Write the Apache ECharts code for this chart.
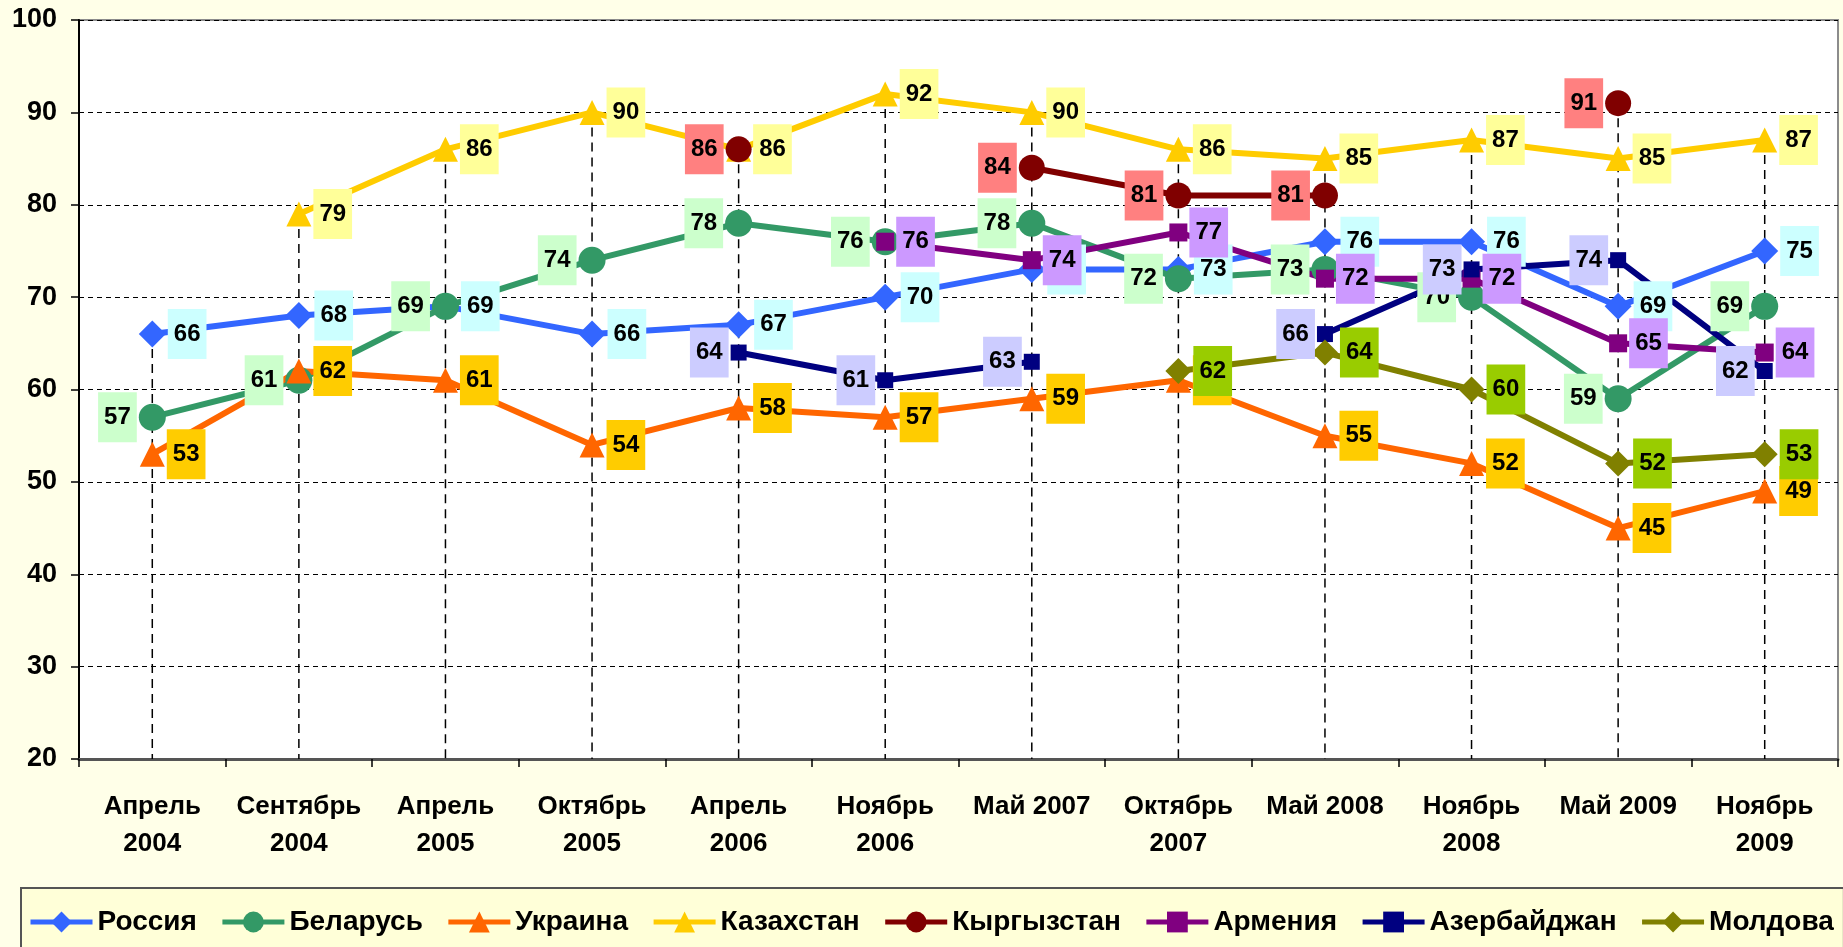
<!DOCTYPE html>
<html>
<head>
<meta charset="utf-8">
<script src="https://cdn.jsdelivr.net/npm/echarts@6/dist/echarts.min.js"></script>
<style>
  html, body { margin: 0; padding: 0; background: #FFFFE8; }
  #main { width: 1843px; height: 947px; }
</style>
</head>
<body>
<div id="main"></div>
<script>
// периоды опроса
var categories = ['Апрель\n2004', 'Сентябрь\n2004', 'Апрель\n2005', 'Октябрь\n2005', 'Апрель\n2006', 'Ноябрь\n2006',
                  'Май 2007', 'Октябрь\n2007', 'Май 2008', 'Ноябрь\n2008', 'Май 2009', 'Ноябрь\n2009'];
var yTicks = [20, 30, 40, 50, 60, 70, 80, 90, 100];

// значения по странам (null - нет данных)
var russia     = [66, 68, 69, 66, 67, 70, 73, 73, 76, 76, 69, 75];
var belarus    = [57, 61, 69, 74, 78, 76, 78, 72, 73, 70, 59, 69];
var ukraine    = [53, 62, 61, 54, 58, 57, 59, 61, 55, 52, 45, 49];
var kazakhstan = [null, 79, 86, 90, 86, 92, 90, 86, 85, 87, 85, 87];
var kyrgyzstan = [null, null, null, null, 86, null, 84, 81, 81, null, 91, null];
var armenia    = [null, null, null, null, null, 76, 74, 77, 72, 72, 65, 64];
var azerbaijan = [null, null, null, null, 64, 61, 63, null, 66, 73, 74, 62];
var moldova    = [null, null, null, null, null, null, null, 62, 64, 60, 52, 53];

var FONT = "'Liberation Sans', Arial, sans-serif";

var dom = document.getElementById('main');
var myChart = echarts.init(dom);

function clean(arr) {
    return arr.map(function (v) { return v === null ? '-' : v; });
}

// одна линия страны
function makeSeries(name, data, color, labelBg, symbol, size, pos) {
    return {
        name: name,
        type: 'line',
        data: clean(data),
        symbol: symbol,
        symbolSize: size,
        z: 3,
        lineStyle: { color: color, width: 6 },
        itemStyle: { color: color },
        label: {
            show: true,
            position: pos,
            distance: 2,
            color: '#000',
            fontFamily: FONT,
            fontWeight: 'bold',
            fontSize: 24,
            backgroundColor: labelBg,
            padding: [13, 6, 13, 6]
        },
        emphasis: { disabled: true }
    };
}

// вертикальные линии от максимума вниз
var dropData = categories.map(function (c, i) {
    var all = [russia, belarus, ukraine, kazakhstan, kyrgyzstan, armenia, azerbaijan, moldova];
    var m = null;
    all.forEach(function (s) {
        if (s[i] !== null && (m === null || s[i] > m)) m = s[i];
    });
    return [i, m];
});

var series = [
    {
        type: 'custom',
        z: 1,
        silent: true,
        data: dropData,
        renderItem: function (params, api) {
            var top = api.coord([api.value(0), api.value(1)]);
            var bottom = api.coord([api.value(0), yTicks[0]]);
            return {
                type: 'line',
                shape: { x1: top[0], y1: top[1], x2: bottom[0], y2: bottom[1] },
                style: { stroke: '#000', lineWidth: 1.5, lineDash: [9, 6] }
            };
        }
    },
    makeSeries('Россия', russia, '#3366FF', '#CCFFFF', 'diamond', 27, 'right'),
    makeSeries('Беларусь', belarus, '#339966', '#CCFFCC', 'circle', 27, 'left'),
    makeSeries('Украина', ukraine, '#FF6600', '#FFCC00', 'triangle', 25, 'right'),
    makeSeries('Казахстан', kazakhstan, '#FFCC00', '#FFFF99', 'triangle', 25, 'right'),
    makeSeries('Кыргызстан', kyrgyzstan, '#800000', '#FF8080', 'circle', 26, 'left'),
    makeSeries('Армения', armenia, '#800080', '#CC99FF', 'rect', 18, 'right'),
    makeSeries('Азербайджан', azerbaijan, '#000080', '#CCCCFF', 'rect', 16, 'left'),
    makeSeries('Молдова', moldova, '#808000', '#99CC00', 'diamond', 26, 'right')
];

var option = {
    backgroundColor: '#FFFFE8',
    animation: false,
    grid: {
        left: 79,
        right: 5,
        top: 20,
        bottom: 188,
        show: true,
        backgroundColor: '#FFFFFF',
        borderColor: '#8C8C8C',
        borderWidth: 2,
        outerBoundsMode: 'none'
    },
    legend: {
        data: ['Россия', 'Беларусь', 'Украина', 'Казахстан', 'Кыргызстан', 'Армения', 'Азербайджан', 'Молдова'],
        left: 21,
        top: 888,
        width: 1950,
        padding: [20, 10, 20, 7],
        itemGap: 23,
        itemWidth: 62,
        itemHeight: 26,
        backgroundColor: '#FFFFD8',
        borderColor: '#555555',
        borderWidth: 2,
        borderRadius: 0,
        selectedMode: false,
        lineStyle: { width: 5 },
        textStyle: { color: '#000', fontFamily: FONT, fontWeight: 'bold', fontSize: 28 }
    },
    xAxis: {
        type: 'category',
        data: categories,
        boundaryGap: true,
        axisLine: { lineStyle: { color: '#555555', width: 3 } },
        axisTick: { show: true, length: 8, lineStyle: { color: '#000', width: 1.5 } },
        axisLabel: {
            color: '#000',
            fontFamily: FONT,
            fontWeight: 'bold',
            fontSize: 26,
            lineHeight: 37,
            margin: 29,
            interval: 0
        },
        splitLine: { show: false }
    },
    yAxis: {
        type: 'value',
        min: yTicks[0],
        max: yTicks[yTicks.length - 1],
        interval: 10,
        axisLine: { show: true, lineStyle: { color: '#000', width: 2 } },
        axisTick: { show: true, length: 8, lineStyle: { color: '#000', width: 1.5 } },
        axisLabel: {
            color: '#000',
            fontFamily: FONT,
            fontWeight: 'bold',
            fontSize: 27,
            margin: 22
        },
        splitLine: { show: true, lineStyle: { color: '#000', width: 1.2, type: [5, 4] } }
    },
    series: series
};

if (option && typeof option === "object") {
    myChart.setOption(option, true);
}
</script>
</body>
</html>
